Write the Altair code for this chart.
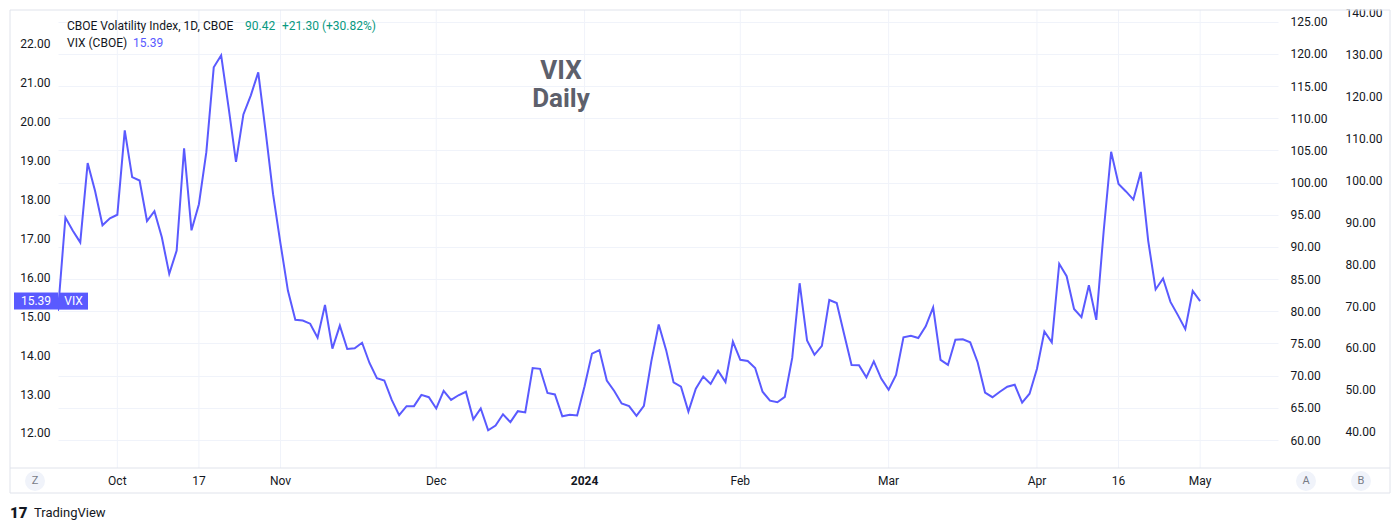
import altair as alt
import pandas as pd

# ---------------- data ----------------
# VIX daily closes, one per trading session, Sep 20 2023 .. May 1 2024
# trading-session index: 0 = Oct 2 2023 (first session shown under "Oct")
first_index = -8
vix_close = [
    # Sep 20 - Sep 29
    15.14, 17.54, 17.20, 16.90, 18.94, 18.22, 17.34, 17.52,
    # Oct
    17.61, 19.78, 18.58, 18.49, 17.45, 17.70, 17.03, 16.09, 16.69, 19.32, 17.21,
    17.88, 19.22, 21.40, 21.71, 20.37, 18.97, 20.19, 20.68, 21.27, 19.75, 18.14,
    # Nov
    16.87, 15.66, 14.91, 14.89, 14.81, 14.45, 15.29, 14.17, 14.76, 14.16, 14.18,
    14.32, 13.80, 13.41, 13.35, 12.85, 12.46, 12.69, 12.69, 12.98, 12.92,
    # Dec
    12.63, 13.08, 12.85, 12.97, 13.06, 12.35, 12.63, 12.07, 12.19, 12.48, 12.28,
    12.56, 12.53, 13.67, 13.65, 13.03, 12.99, 12.43, 12.47, 12.45,
    # Jan
    13.20, 14.04, 14.13, 13.35, 13.08, 12.76, 12.69, 12.44, 12.70, 13.84, 14.79,
    14.13, 13.30, 13.19, 12.55, 13.14, 13.45, 13.26, 13.60, 13.31, 14.35,
    # Feb
    13.88, 13.85, 13.67, 13.06, 12.83, 12.79, 12.93, 13.93, 15.85, 14.38, 14.01,
    14.24, 15.42, 15.34, 14.54, 13.75, 13.74, 13.43, 13.84, 13.40,
    # Mar
    13.11, 13.49, 14.46, 14.50, 14.44, 14.74, 15.23, 13.88, 13.75, 14.40, 14.41,
    14.33, 13.82, 13.04, 12.92, 13.06, 13.19, 13.24, 12.78, 13.01,
    # Apr
    13.65, 14.61, 14.33, 16.35, 16.03, 15.19, 14.98, 15.80, 14.91, 17.20, 19.23,
    18.40, 18.21, 18.00, 18.71, 16.94, 15.69, 15.97, 15.37, 15.03, 14.67, 15.65,
    # May 1
    15.39,
]
session_index = list(range(first_index, first_index + len(vix_close)))

time_tick_index = [0, 11, 22, 43, 63, 84, 104, 124, 135, 146]
time_tick_labels = ["Oct", "17", "Nov", "Dec", "2024", "Feb", "Mar", "Apr", "16", "May"]
time_tick_bold = [False, False, False, False, True, False, False, False, False, False]

left_ticks = [12, 13, 14, 15, 16, 17, 18, 19, 20, 21, 22]
axis_a_ticks = [60, 65, 70, 75, 80, 85, 90, 95, 100, 105, 110, 115, 120, 125]
axis_b_ticks = [40, 50, 60, 70, 80, 90, 100, 110, 120, 130, 140]

last_value = 15.39
legend_main = "CBOE Volatility Index, 1D, CBOE"
legend_main_value = "90.42"
legend_main_change = "+21.30 (+30.82%)"
legend_vix = "VIX (CBOE)"
legend_vix_value = "15.39"
title_line1 = "VIX"
title_line2 = "Daily"

# ---------------- styling ----------------
FONT = "Roboto"
LINE = "#5a5aff"
TEXT = "#131722"
GRID = "#f0f3fa"
BORDER = "#e0e3eb"
W, H = 1220, 458

x_scale = alt.Scale(domain=[-8, 156.5], nice=False, zero=False)
yl_scale = alt.Scale(domain=[11.10, 22.874], nice=False, zero=False)
ya_scale = alt.Scale(domain=[55.65, 126.81], nice=False, zero=False)
yb_scale = alt.Scale(domain=[31.34, 140.64], nice=False, zero=False)

one = pd.DataFrame({"k": [0]})

df = pd.DataFrame({"i": session_index, "vix": vix_close})
ticks_df = pd.DataFrame({"i": time_tick_index, "label": time_tick_labels,
                         "bold": time_tick_bold})


def label(txt, x, y, size=12, color=TEXT, align="left", weight="normal"):
    return alt.Chart(pd.DataFrame({"t": [txt]})).mark_text(
        align=align, baseline="middle", font=FONT, fontSize=size,
        color=color, fontWeight=weight, clip=False
    ).encode(x=alt.value(x), y=alt.value(y), text="t:N")


# frame and separators
frame = alt.Chart(one).mark_rect(
    fillOpacity=0, stroke=BORDER, strokeWidth=1, clip=False
).encode(x=alt.value(-48), x2=alt.value(1332), y=alt.value(0), y2=alt.value(483))
sep = alt.Chart(one).mark_rule(color=BORDER, strokeWidth=1, clip=False).encode(
    x=alt.value(-48), x2=alt.value(1332), y=alt.value(458), y2=alt.value(458))
cover = alt.Chart(one).mark_rect(color="white", clip=False).encode(
    x=alt.value(-58), x2=alt.value(1342), y=alt.value(-10), y2=alt.value(-0.5))

# vertical gridlines + time labels
vgrid = alt.Chart(ticks_df).mark_rule(color=GRID, strokeWidth=1).encode(
    x=alt.X("i:Q", scale=x_scale, axis=None),
    y=alt.value(0), y2=alt.value(H))


def xlabel_layer(bold):
    return alt.Chart(ticks_df).transform_filter(
        "datum.bold" if bold else "!datum.bold"
    ).mark_text(
        font=FONT, fontSize=12, color=TEXT, baseline="middle", clip=False,
        fontWeight="bold" if bold else "normal"
    ).encode(
        x=alt.X("i:Q", scale=x_scale, axis=None),
        y=alt.value(471),
        text="label:N")


axis_style = dict(format=".2f", domain=False, ticks=False, labelFont=FONT,
                  labelFontSize=12, labelColor=TEXT, title=None, labelOverlap=False,
                  zindex=0)

axis_a = alt.Chart(pd.DataFrame({"a": axis_a_ticks})).mark_point(opacity=0).encode(
    y=alt.Y("a:Q", scale=ya_scale,
            axis=alt.Axis(orient="right", values=axis_a_ticks, grid=True,
                          gridColor=GRID, labelPadding=12, **axis_style)))
axis_b = alt.Chart(pd.DataFrame({"b": axis_b_ticks})).mark_point(opacity=0).encode(
    y=alt.Y("b:Q", scale=yb_scale,
            axis=alt.Axis(orient="right", values=axis_b_ticks, grid=False,
                          offset=55, labelPadding=12, **axis_style)))

line = alt.Chart(df).mark_line(color=LINE, strokeWidth=2, clip=True).encode(
    x=alt.X("i:Q", scale=x_scale, axis=None),
    y=alt.Y("vix:Q", scale=yl_scale,
            axis=alt.Axis(orient="left", values=left_ticks, grid=False,
                          labelPadding=8, **axis_style)))

# last price tag on the left scale
pv = pd.DataFrame({"v": [last_value], "t1": [f"{last_value:.2f}"], "t2": ["VIX"]})
tag1 = alt.Chart(pv).mark_tick(orient="horizontal", size=44, thickness=17,
                               color=LINE, opacity=1, clip=False).encode(
    x=alt.value(-22), y=alt.Y("v:Q", scale=yl_scale, axis=None))
tag2 = alt.Chart(pv).mark_tick(orient="horizontal", size=29, thickness=17,
                               color=LINE, opacity=1, clip=False).encode(
    x=alt.value(15.5), y=alt.Y("v:Q", scale=yl_scale, axis=None))
tag1t = alt.Chart(pv).mark_text(font=FONT, fontSize=12, color="white",
                                baseline="middle", clip=False).encode(
    x=alt.value(-22), y=alt.Y("v:Q", scale=yl_scale, axis=None), text="t1:N")
tag2t = alt.Chart(pv).mark_text(font=FONT, fontSize=12, color="white",
                                baseline="middle", clip=False).encode(
    x=alt.value(15.5), y=alt.Y("v:Q", scale=yl_scale, axis=None), text="t2:N")


# round buttons
def button(letter, x):
    c = alt.Chart(one).mark_circle(size=400, color="#f0f3fa", opacity=1,
                                   clip=False).encode(x=alt.value(x), y=alt.value(471))
    t = label(letter, x, 471, size=11, color="#787b86", align="center")
    return [c, t]


layers = [vgrid, axis_a, axis_b, line, tag1, tag2, tag1t, tag2t,
          xlabel_layer(False), xlabel_layer(True), cover, frame, sep]
layers += button("Z", -23) + button("A", 1248) + button("B", 1303)
layers += [
    label(legend_main, 9, 16),
    label(legend_main_value, 187, 16, color="#089981"),
    label(legend_main_change, 224, 16, color="#089981"),
    label(legend_vix, 9, 33),
    label(legend_vix_value, 75, 33, color=LINE),
    label(title_line1, 503, 61, size=26, color="#5d606b", align="center", weight="bold"),
    label(title_line2, 503, 89, size=26, color="#5d606b", align="center", weight="bold"),
    label("17", -48, 503, size=15, color=TEXT, weight=900),
    label("TradingView", -24, 503, size=13, color=TEXT),
]

chart = alt.layer(*layers).resolve_scale(y="independent").properties(
    width=W, height=H,
    autosize=alt.AutoSizeParams(type="none"),
    padding={"left": 58, "top": 10, "right": 122, "bottom": 62},
    background="white",
).configure_view(stroke=None)

chart.save("out.html", embed_options={"renderer": "svg", "actions": False})
